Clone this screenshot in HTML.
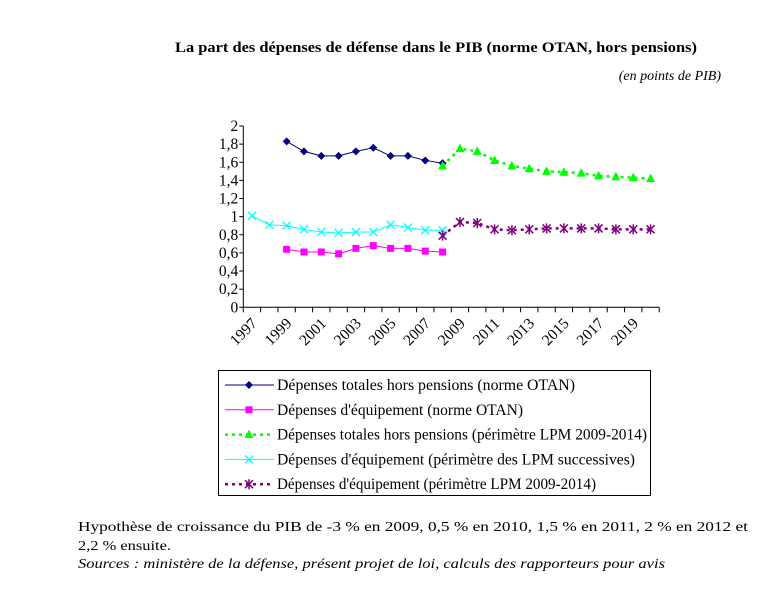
<!DOCTYPE html>
<html><head><meta charset="utf-8"><style>
body{margin:0;background:#fff;}
svg{display:block;font-family:"Liberation Serif","Times New Roman",serif;}
</style></head><body>
<svg id="chart" width="773" height="601" viewBox="0 0 773 601" xmlns="http://www.w3.org/2000/svg">
<text x="175" y="52" font-size="15" font-weight="bold" textLength="522" lengthAdjust="spacingAndGlyphs">La part des dépenses de défense dans le PIB (norme OTAN, hors pensions)</text>
<text x="721" y="80" font-size="14" font-style="italic" text-anchor="end">(en points de PIB)</text>
<g id="plot"></g>
<rect x="218.5" y="370.5" width="432" height="125" fill="none" stroke="#000" stroke-width="1"/>
<g id="legend"></g>
<text x="78" y="531" font-family="Liberation Serif, serif" font-size="14" textLength="670" lengthAdjust="spacingAndGlyphs">Hypothèse de croissance du PIB de -3 % en 2009, 0,5 % en 2010, 1,5 % en 2011, 2 % en 2012 et</text>
<text x="78" y="550" font-family="Liberation Serif, serif" font-size="14" textLength="93" lengthAdjust="spacingAndGlyphs">2,2 % ensuite.</text>
<text x="78" y="568" font-family="Liberation Serif, serif" font-size="14" font-style="italic" textLength="587" lengthAdjust="spacingAndGlyphs">Sources : ministère de la défense, présent projet de loi, calculs des rapporteurs pour avis</text>
</svg>
<script>
const categories = [1997,1998,1999,2000,2001,2002,2003,2004,2005,2006,2007,2008,2009,2010,2011,2012,2013,2014,2015,2016,2017,2018,2019,2020];
const yTicks = ["0","0,2","0,4","0,6","0,8","1","1,2","1,4","1,6","1,8","2"];
const totalOtan = [null,null,1.83,1.72,1.67,1.67,1.72,1.76,1.67,1.67,1.62,1.59];
const equipOtan = [null,null,0.64,0.61,0.61,0.59,0.65,0.68,0.65,0.65,0.62,0.61];
const totalLpm = [null,null,null,null,null,null,null,null,null,null,null,1.56,1.75,1.72,1.62,1.56,1.53,1.50,1.49,1.48,1.45,1.44,1.43,1.42];
const equipSucc = [1.01,0.91,0.90,0.86,0.83,0.82,0.83,0.83,0.91,0.88,0.85,0.85];
const equipLpm = [null,null,null,null,null,null,null,null,null,null,null,0.79,0.94,0.93,0.86,0.85,0.86,0.87,0.87,0.87,0.87,0.86,0.86,0.86];

const NS="http://www.w3.org/2000/svg";
const X0=243.3, STEP=17.33, Y0=307.3, YS=90.65;
const xs=i=>X0+STEP*(i+0.5);
const ys=v=>Y0-v*YS;
const plot=document.getElementById('plot');
function mk(tag,attrs,parent){const e=document.createElementNS(NS,tag);for(const k in attrs)e.setAttribute(k,attrs[k]);(parent||plot).appendChild(e);return e;}

let ax=mk('line',{x1:X0,y1:ys(0),x2:X0,y2:ys(2),stroke:'#000'});


let bx=mk('line',{x1:X0,y1:Y0,x2:X0+STEP*categories.length,y2:Y0,stroke:'#000'});


yTicks.forEach((t,i)=>{
  const y=ys(i*0.2);
  const l=mk('line',{x1:X0-4,y1:y,x2:X0,y2:y,stroke:'#000'});
  
  
  const tx=mk('text',{x:X0-5,y:y+5,'font-size':15.5,'text-anchor':'end'});
  tx.textContent=t;
  
  
});
for(let i=0;i<=categories.length;i++){
  const x=X0+STEP*i;
  const l=mk('line',{x1:x,y1:Y0,x2:x,y2:Y0+5,stroke:'#000'});
  
  
}
categories.forEach((c,i)=>{
  if(i%2) return;
  const x=xs(i)+6, y=Y0+17;
  const t=mk('text',{x:x,y:y,'font-size':15.5,'text-anchor':'end',transform:`rotate(-45 ${x} ${y})`});
  t.textContent=c;
  
  
});

function marker(type,x,y,color,g){
  if(type==='diamond') mk('path',{d:`M${x} ${y-4}L${x+4} ${y}L${x} ${y+4}L${x-4} ${y}Z`,fill:color},g);
  else if(type==='square') mk('rect',{x:x-3.5,y:y-3.5,width:7,height:7,fill:color},g);
  else if(type==='triangle') mk('path',{d:`M${x} ${y-5}L${x+4.5} ${y+3.5}L${x-4.5} ${y+3.5}Z`,fill:color},g);
  else if(type==='x') mk('path',{d:`M${x-4} ${y-4}L${x+4} ${y+4}M${x+4} ${y-4}L${x-4} ${y+4}`,stroke:color,'stroke-width':1.3,fill:'none'},g);
  else if(type==='star') mk('path',{d:`M${x-4} ${y-4}L${x+4} ${y+4}M${x+4} ${y-4}L${x-4} ${y+4}M${x} ${y-5}L${x} ${y+5}`,stroke:color,'stroke-width':1.5,fill:'none'},g);
}
const series=[
 {name:'series-total-otan',data:totalOtan,color:'#000080',m:'diamond',dash:null,label:"Dépenses totales hors pensions (norme OTAN)",w:298},
 {name:'series-equip-otan',data:equipOtan,color:'#ff00ff',m:'square',dash:null,label:"Dépenses d'équipement (norme OTAN)",w:246},
 {name:'series-total-lpm',data:totalLpm,color:'#00ff00',m:'triangle',dash:'3,4',label:"Dépenses totales hors pensions (périmètre LPM 2009-2014)",w:370},
 {name:'series-equip-successives',data:equipSucc,color:'#00ffff',m:'x',dash:null,label:"Dépenses d'équipement (périmètre des LPM successives)",w:358},
 {name:'series-equip-lpm',data:equipLpm,color:'#800080',m:'star',dash:'3,4',label:"Dépenses d'équipement (périmètre LPM 2009-2014)",w:319}
];
series.forEach(s=>{
  const g=mk('g',{});
  
  
  let pts=[];
  s.data.forEach((v,i)=>{if(v!=null)pts.push([xs(i),ys(v)]);});
  const p=mk('polyline',{points:pts.map(p=>p.join(',')).join(' '),fill:'none',stroke:s.color,'stroke-width':s.dash?2.5:1},g);
  if(s.dash)p.setAttribute('stroke-dasharray',s.dash);
  pts.forEach(pt=>marker(s.m,pt[0],pt[1],s.color,g));
});
const leg=document.getElementById('legend');
series.forEach((s,i)=>{
  const y=385+i*24.8;
  const g=mk('g',{},leg);
  
  
  const l=mk('line',{x1:225,y1:y,x2:274,y2:y,stroke:s.color,'stroke-width':s.dash?2.5:1},g);
  if(s.dash)l.setAttribute('stroke-dasharray',s.dash);
  marker(s.m,249,y,s.color,g);
  const t=mk('text',{x:277,y:y+5,'font-size':15.5,textLength:s.w,lengthAdjust:'spacingAndGlyphs'},g);
  t.textContent=s.label;
});
</script>
</body></html>
